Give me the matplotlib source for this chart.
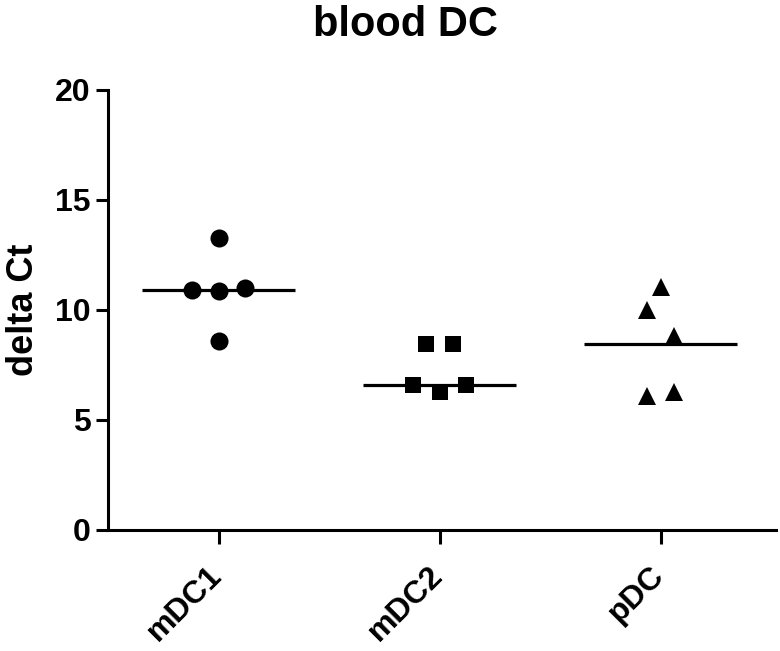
import numpy as np
import matplotlib
matplotlib.use("Agg")
import matplotlib.pyplot as plt
from matplotlib.transforms import ScaledTranslation

plt.rcParams['font.family'] = ['Liberation Sans', 'DejaVu Sans']
plt.rcParams['font.weight'] = 'bold'

# values
categories = ["mDC1", "mDC2", "pDC"]
mdc1 = [13.27, 10.92, 10.84, 11.02, 8.57]
mdc2 = [8.46, 8.46, 6.60, 6.29, 6.57]
pdc = [11.04, 9.98, 8.80, 6.07, 6.25]
# small horizontal jitter of each point, as drawn
offsets = [[0.0, -0.12, 0.0, 0.12, 0.0],
           [-0.06, 0.06, -0.12, 0.0, 0.12],
           [0.0, -0.06, 0.06, -0.06, 0.06]]
center_lines = [10.92, 6.60, 8.46]
markers = ["o", "s", "^"]
marker_sizes = [13, 12, 13]

fig = plt.figure(figsize=(7.8, 6.51), dpi=100)
ax = fig.add_axes([0.1385, 0.1859, 0.856, 0.6759])

for i, vals in enumerate([mdc1, mdc2, pdc]):
    xs = np.array(offsets[i]) + i
    ax.plot(xs, vals, linestyle="none", marker=markers[i],
            markersize=marker_sizes[i], color="black", markeredgewidth=0)
    ax.plot([i - 0.345, i + 0.345], [center_lines[i]] * 2,
            color="black", linewidth=2.3, solid_capstyle="butt")

ax.set_xlim(-0.5, 2.52)
ax.set_ylim(0, 20)
ax.set_yticks([0, 5, 10, 15, 20])
ax.set_xticks(range(len(categories)))
ax.set_xticklabels(categories, rotation=45, ha="right",
                   rotation_mode="anchor")

for side in ["top", "right"]:
    ax.spines[side].set_visible(False)
for side in ["left", "bottom"]:
    ax.spines[side].set_linewidth(2.2)

ax.tick_params(axis="both", width=2.2, length=8.5, labelsize=23, pad=4)
ax.tick_params(axis="x", length=10, pad=12)
ax.set_ylabel("delta Ct", fontsize=26, fontweight="bold", labelpad=10)

# nudge rotated category labels so their ends sit under the ticks
shift = ScaledTranslation(-0.12, -0.0, fig.dpi_scale_trans)
for lbl in ax.get_xticklabels():
    lbl.set_transform(lbl.get_transform() + shift)

fig.text(0.52, 0.962, "blood DC", ha="center", va="center",
         fontsize=30, fontweight="bold")

fig.savefig("out.png", dpi=100)
